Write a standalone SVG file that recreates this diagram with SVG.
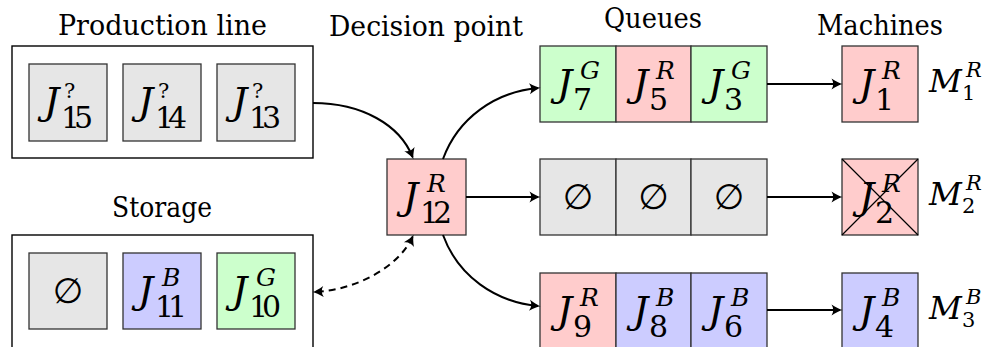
<svg xmlns="http://www.w3.org/2000/svg" width="985" height="347" viewBox="0 0 985 347">
  <defs>
    <style>
      .frame{fill:#fff;stroke:#000;stroke-width:1.4}
      .cell{stroke:#333;stroke-width:1.3}
      .r{fill:#ffcccc}
      .g{fill:#ccffcc}
      .b{fill:#ccccff}
      .e{fill:#e6e6e6}
      text{font-family:'DejaVu Serif',serif;fill:#000}
      .title{font-size:27px;text-anchor:middle}
      .J{font-style:italic;font-size:38px}
      .sub{font-style:normal;font-size:30px}
      .sup{font-style:italic;font-size:25px}
      .qm{font-style:normal;font-size:21px}
      .M{font-style:italic;font-size:32px}
      .Ms{font-style:normal;font-size:21px}
      .Msup{font-style:italic;font-size:21px}
      .empty{font-family:'DejaVu Sans',sans-serif;font-size:35px;text-anchor:middle}
      .link{fill:none;stroke:#000;stroke-width:2;marker-end:url(#tip)}
      .dash{fill:none;stroke:#000;stroke-width:2;stroke-dasharray:7 5;marker-start:url(#tip);marker-end:url(#tip)}
    </style>
    <marker id="tip" viewBox="-12 -7 14 14" refX="-2" refY="0" markerWidth="14" markerHeight="14" markerUnits="userSpaceOnUse" orient="auto-start-reverse">
      <path d="M-10.5,-5.5 C-6,-2.6 -2.5,-0.8 0.5,0 C-2.5,0.8 -6,2.6 -10.5,5.5 C-8.2,1.8 -8.2,-1.8 -10.5,-5.5 Z" fill="#000"/>
    </marker>
  </defs>

  <!-- section titles -->
  <text class="title" x="162.5" y="35" textLength="209" lengthAdjust="spacingAndGlyphs">Production line</text>
  <text class="title" x="426" y="36" textLength="194" lengthAdjust="spacingAndGlyphs">Decision point</text>
  <text class="title" x="653" y="28" textLength="98" lengthAdjust="spacingAndGlyphs">Queues</text>
  <text class="title" x="880" y="35" textLength="126" lengthAdjust="spacingAndGlyphs">Machines</text>
  <text class="title" x="162" y="217" textLength="100" lengthAdjust="spacingAndGlyphs">Storage</text>

  <!-- production line -->
  <g id="production-line">
    <rect class="frame" x="12" y="46" width="301" height="112"/>
    <g id="job-15">
      <rect class="cell e" x="29" y="64" width="78" height="77"/>
      <text class="J" x="44" y="114">J<tspan class="qm" x="64" y="98">?</tspan><tspan class="sub" x="61" y="128" textLength="32">15</tspan></text>
    </g>
    <g id="job-14">
      <rect class="cell e" x="123" y="64" width="78" height="77"/>
      <text class="J" x="138" y="114">J<tspan class="qm" x="158" y="98">?</tspan><tspan class="sub" x="155" y="128" textLength="32">14</tspan></text>
    </g>
    <g id="job-13">
      <rect class="cell e" x="217" y="64" width="78" height="77"/>
      <text class="J" x="232" y="114">J<tspan class="qm" x="252" y="98">?</tspan><tspan class="sub" x="249" y="128" textLength="32">13</tspan></text>
    </g>
  </g>

  <!-- storage -->
  <g id="storage">
    <rect class="frame" x="12" y="235" width="301" height="120"/>
    <g id="storage-empty">
      <rect class="cell e" x="29" y="253" width="78" height="76"/>
      <text class="empty" x="68" y="303">∅</text>
    </g>
    <g id="job-11">
      <rect class="cell b" x="123" y="253" width="78" height="76"/>
      <text class="J" x="138" y="303">J<tspan class="sup" x="162" y="286">B</tspan><tspan class="sub" x="155" y="317" textLength="32">11</tspan></text>
    </g>
    <g id="job-10">
      <rect class="cell g" x="217" y="253" width="78" height="76"/>
      <text class="J" x="232" y="303">J<tspan class="sup" x="256" y="286">G</tspan><tspan class="sub" x="249" y="317" textLength="32">10</tspan></text>
    </g>
  </g>

  <!-- decision point -->
  <g id="job-12">
    <rect class="cell r" x="387" y="159" width="79" height="76"/>
    <text class="J" x="403" y="209">J<tspan class="sup" x="427" y="192">R</tspan><tspan class="sub" x="420" y="223" textLength="32">12</tspan></text>
  </g>

  <!-- queue 1 -->
  <g id="queue-1">
    <rect class="cell g" x="540" y="46" width="76" height="76"/>
    <rect class="cell r" x="616" y="46" width="75" height="76"/>
    <rect class="cell g" x="691" y="46" width="76" height="76"/>
    <text class="J" x="557" y="96">J<tspan class="sup" x="580" y="79">G</tspan><tspan class="sub" x="573" y="110">7</tspan></text>
    <text class="J" x="633" y="96">J<tspan class="sup" x="656" y="79">R</tspan><tspan class="sub" x="649" y="110">5</tspan></text>
    <text class="J" x="708" y="96">J<tspan class="sup" x="731" y="79">G</tspan><tspan class="sub" x="724" y="110">3</tspan></text>
  </g>

  <!-- queue 2 -->
  <g id="queue-2">
    <rect class="cell e" x="540" y="159" width="76" height="76"/>
    <rect class="cell e" x="616" y="159" width="75" height="76"/>
    <rect class="cell e" x="691" y="159" width="76" height="76"/>
    <text class="empty" x="578" y="209">∅</text>
    <text class="empty" x="653.5" y="209">∅</text>
    <text class="empty" x="729" y="209">∅</text>
  </g>

  <!-- queue 3 -->
  <g id="queue-3">
    <rect class="cell r" x="540" y="273" width="76" height="76"/>
    <rect class="cell b" x="616" y="273" width="75" height="76"/>
    <rect class="cell b" x="691" y="273" width="76" height="76"/>
    <text class="J" x="557" y="323">J<tspan class="sup" x="580" y="306">R</tspan><tspan class="sub" x="573" y="337">9</tspan></text>
    <text class="J" x="633" y="323">J<tspan class="sup" x="656" y="306">B</tspan><tspan class="sub" x="649" y="337">8</tspan></text>
    <text class="J" x="708" y="323">J<tspan class="sup" x="731" y="306">B</tspan><tspan class="sub" x="724" y="337">6</tspan></text>
  </g>

  <!-- machines -->
  <g id="machine-1">
    <rect class="cell r" x="842" y="46" width="76" height="76"/>
    <text class="J" x="859" y="96">J<tspan class="sup" x="882" y="79">R</tspan><tspan class="sub" x="875" y="110">1</tspan></text>
    <text class="M" x="929" y="92">M<tspan class="Msup" x="966" y="77">R</tspan><tspan class="Ms" x="962" y="100">1</tspan></text>
  </g>
  <g id="machine-2">
    <rect class="cell r" x="842" y="159" width="76" height="76"/>
    <text class="J" x="859" y="209">J<tspan class="sup" x="882" y="192">R</tspan><tspan class="sub" x="875" y="223">2</tspan></text>
    <path d="M842,159 L918,235 M918,159 L842,235" stroke="#000" stroke-width="1.2"/>
    <text class="M" x="929" y="205">M<tspan class="Msup" x="966" y="190">R</tspan><tspan class="Ms" x="962" y="213">2</tspan></text>
  </g>
  <g id="machine-3">
    <rect class="cell b" x="842" y="273" width="76" height="76"/>
    <text class="J" x="859" y="323">J<tspan class="sup" x="882" y="306">B</tspan><tspan class="sub" x="875" y="337">4</tspan></text>
    <text class="M" x="929" y="319">M<tspan class="Msup" x="966" y="304">B</tspan><tspan class="Ms" x="962" y="327">3</tspan></text>
  </g>

  <!-- connectors -->
  <g id="connectors">
    <path class="link" d="M313,103 C362,103 400,125 412.5,157"/>
    <path class="link" d="M443,159 C458,118 495,92 538,88"/>
    <path class="link" d="M466,197 L538,197"/>
    <path class="link" d="M443,235 C458,276 495,302 538,306"/>
    <path class="dash" d="M412.5,237 C398,268 355,290 315,292"/>
    <path class="link" d="M767,84 L840,84"/>
    <path class="link" d="M767,197 L840,197"/>
    <path class="link" d="M767,310 L840,310"/>
  </g>
</svg>
